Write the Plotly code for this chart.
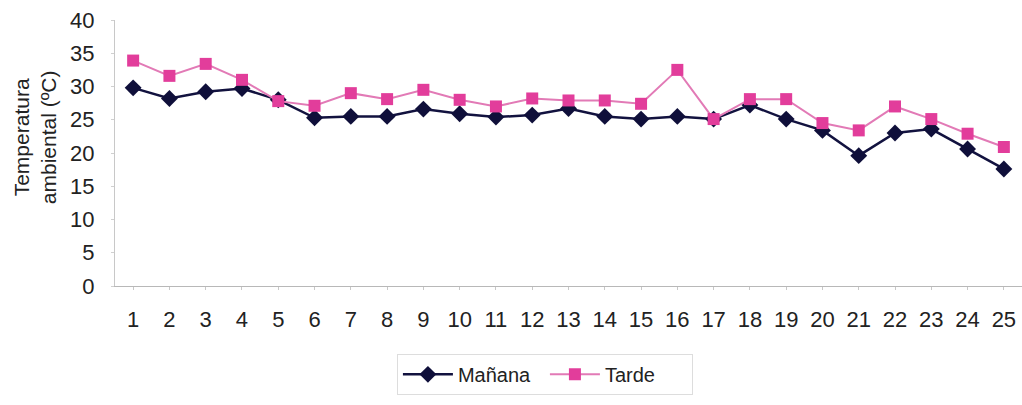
import plotly.graph_objects as go

# Días de muestreo y temperaturas registradas
dias = list(range(1, 26))
manana = [29.8, 28.2, 29.2, 29.7, 28.0, 25.3, 25.5, 25.5, 26.6, 25.9,
          25.4, 25.7, 26.7, 25.5, 25.1, 25.5, 25.1, 27.2, 25.1, 23.4,
          19.6, 23.0, 23.6, 20.6, 17.6]
tarde = [33.9, 31.6, 33.4, 31.0, 27.8, 27.1, 29.0, 28.1, 29.5, 28.0,
         27.0, 28.2, 27.9, 27.9, 27.4, 32.5, 25.1, 28.1, 28.1, 24.5,
         23.4, 27.0, 25.1, 22.9, 20.9]
y_ticks = [0, 5, 10, 15, 20, 25, 30, 35, 40]

FONT = "Liberation Sans, Arial, sans-serif"

fig = go.Figure()
fig.add_trace(go.Scatter(
    x=dias, y=manana, name="Mañana", mode="lines+markers",
    line=dict(color="#12123f", width=2.5),
    marker=dict(symbol="diamond", size=13, color="#0f0f3a"),
))
fig.add_trace(go.Scatter(
    x=dias, y=tarde, name="Tarde", mode="lines+markers",
    line=dict(color="#e27ab6", width=2),
    marker=dict(symbol="square", size=12, color="#e23d9b"),
))

fig.update_layout(
    width=1022, height=405,
    margin=dict(l=115, r=0, t=20, b=119),
    paper_bgcolor="white", plot_bgcolor="white",
    font=dict(family=FONT, color="#222222"),
    showlegend=True,
    legend=dict(
        orientation="h", x=0.474, y=-0.255, xanchor="center", yanchor="top",
        bordercolor="#dddddd", borderwidth=1, bgcolor="white",
        font=dict(size=20, family=FONT, color="#222222"),
        itemwidth=50, entrywidth=82, entrywidthmode="pixels",
    ),
)
# Eje Y: título en dos líneas, girado
fig.add_annotation(
    text="Temperatura<br>ambiental (ºC)",
    xref="paper", yref="paper", x=-0.088, y=0.56,
    xanchor="center", yanchor="middle", textangle=-90, showarrow=False,
    font=dict(size=21, family=FONT, color="#222222"),
)
fig.update_xaxes(
    range=[0.5, 25.5], tickmode="array", tickvals=dias,
    showgrid=False, zeroline=False,
    showline=True, linecolor="#b8b8b8", linewidth=1,
    ticks="outside", ticklen=3, tickcolor="#c8c8c8",
    tickfont=dict(size=22, family=FONT, color="#222222"),
    ticklabelstandoff=11,
)
fig.update_yaxes(
    range=[0, 40], tickmode="array", tickvals=y_ticks,
    showgrid=False, zeroline=False,
    showline=True, linecolor="#c8c8c8", linewidth=1,
    ticks="outside", ticklen=3, tickcolor="#d0d0d0",
    tickfont=dict(size=22, family=FONT, color="#222222"),
    ticklabelstandoff=12,
)

fig.write_html("out.html")
